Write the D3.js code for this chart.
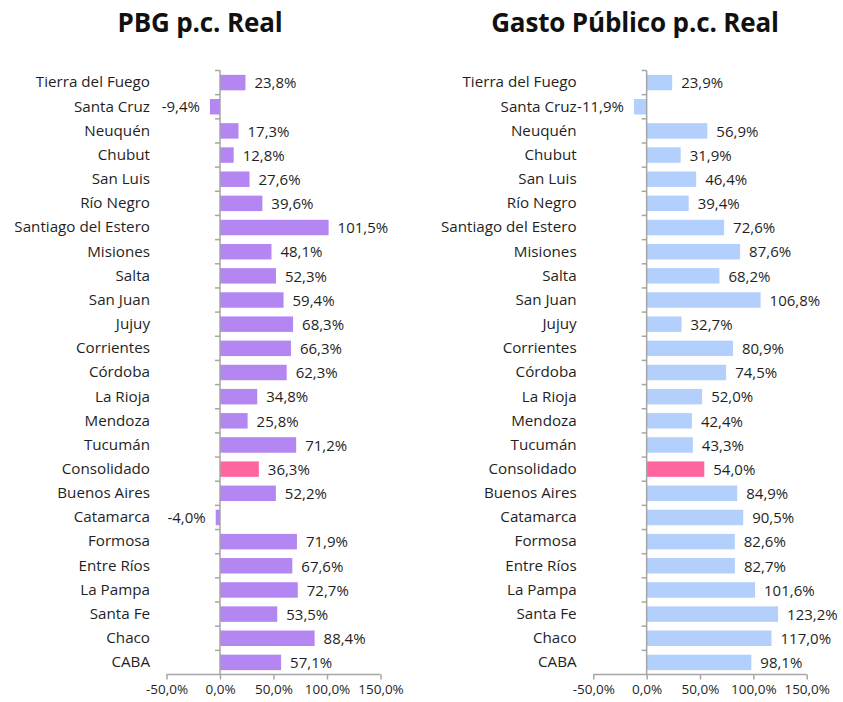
<!DOCTYPE html>
<html><head><meta charset="utf-8">
<script src="https://cdn.jsdelivr.net/npm/d3@7"></script>
<style>body{margin:0;background:#fff}svg{display:block}</style>
</head><body>
<script>
const provincias = ["Tierra del Fuego","Santa Cruz","Neuquén","Chubut","San Luis","Río Negro","Santiago del Estero","Misiones","Salta","San Juan","Jujuy","Corrientes","Córdoba","La Rioja","Mendoza","Tucumán","Consolidado","Buenos Aires","Catamarca","Formosa","Entre Ríos","La Pampa","Santa Fe","Chaco","CABA"];
const pbg = [23.8,-9.4,17.3,12.8,27.6,39.6,101.5,48.1,52.3,59.4,68.3,66.3,62.3,34.8,25.8,71.2,36.3,52.2,-4.0,71.9,67.6,72.7,53.5,88.4,57.1];
const gasto = [23.9,-11.9,56.9,31.9,46.4,39.4,72.6,87.6,68.2,106.8,32.7,80.9,74.5,52.0,42.4,43.3,54.0,84.9,90.5,82.6,82.7,101.6,123.2,117.0,98.1];
const xTicks = [-50,0,50,100,150];
const titles = ["PBG p.c. Real","Gasto Público p.c. Real"];

const W=843,H=702;
const svg=d3.select("body").append("svg").attr("width",W).attr("height",H);
const font="'Open Sans', sans-serif";
const textColor="#1f1f1f", axisColor="#a6a6a6";
const fmt=v=>d3.format(".1f")(v).replace("\u2212","-").replace(".",",")+"%";

const panels=[
  {values:pbg,title:titles[0],x0:166.5,x1:380.5,color:"#b386f2",titleX:200},
  {values:gasto,title:titles[1],x0:593.3,x1:806.7,color:"#b3cffb",titleX:635}
];
const y=d3.scaleBand().domain(provincias).range([70.5,674.5]).paddingInner(0.36).paddingOuter(0.18);

panels.forEach(p=>{
  const x=d3.scaleLinear().domain([-50,150]).range([p.x0,p.x1]);
  const g=svg.append("g");
  g.append("text").attr("x",p.titleX).attr("y",32).attr("text-anchor","middle")
    .attr("font-family",font).attr("font-weight","bold").attr("font-size",26).attr("fill","#111")
    .attr("letter-spacing",-0.15).text(p.title);
  const data=provincias.map((c,i)=>({c,v:p.values[i]}));
  g.selectAll("rect").data(data).join("rect")
    .attr("x",d=>x(Math.min(0,d.v))).attr("width",d=>Math.abs(x(d.v)-x(0)))
    .attr("y",d=>y(d.c)).attr("height",y.bandwidth())
    .attr("fill",d=>d.c==="Consolidado"?"#ff66a0":p.color);
  // value labels
  g.selectAll("text.val").data(data).join("text").attr("class","val")
    .attr("x",d=>d.v>=0?x(d.v)+9:x(d.v)-10)
    .attr("y",d=>y(d.c)+y.bandwidth()/2+0.5)
    .attr("dy","0.35em").attr("text-anchor",d=>d.v>=0?"start":"end")
    .attr("font-family",font).attr("font-size",15).attr("fill",textColor).text(d=>fmt(d.v));
  // y axis
  const yAxis=g.append("g").attr("transform",`translate(${x(0)},0)`)
    .call(d3.axisLeft(y).tickSize(0).tickPadding(70));
  yAxis.select(".domain").attr("stroke",axisColor).attr("stroke-width",1.5)
    .attr("d",`M0,${y.range()[0]}V${y.range()[1]}`);
  yAxis.selectAll("text").attr("font-family",font).attr("font-size",15.2).attr("fill",textColor);
  // band boundary ticks
  const bounds=d3.range(provincias.length).map(i=>y.range()[0]+i*y.step());
  yAxis.selectAll("line.bt").data(bounds).join("line").attr("class","bt")
    .attr("x1",-5).attr("x2",0).attr("y1",d=>d).attr("y2",d=>d).attr("stroke",axisColor).attr("stroke-width",1.5);
  // x axis
  const xAxis=g.append("g").attr("transform",`translate(0,${y.range()[1]})`)
    .call(d3.axisBottom(x).tickValues(xTicks).tickSize(5).tickPadding(5).tickFormat(fmt));
  xAxis.select(".domain").attr("stroke",axisColor).attr("stroke-width",1.5).attr("d",`M${p.x0},0H${p.x1}`);
  xAxis.selectAll("line").attr("stroke",axisColor).attr("stroke-width",1.5);
  xAxis.selectAll("text").attr("font-family",font).attr("font-size",13.5).attr("fill",textColor);
});
</script>
</body></html>
